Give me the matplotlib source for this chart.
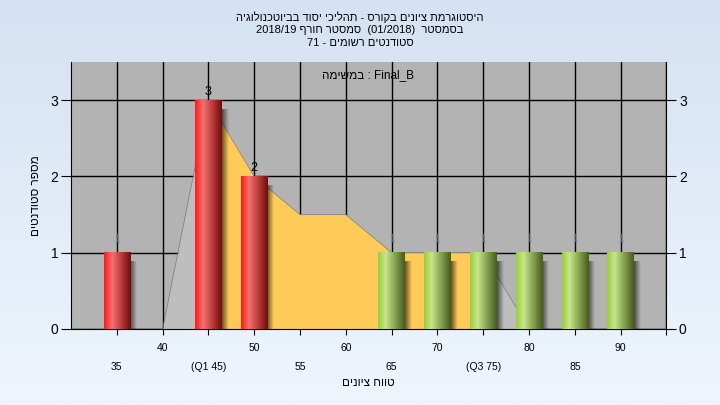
"""
Grade histogram for the course, with quartile band
"""
import re
import numpy as np
import matplotlib
import matplotlib.pyplot as plt
from matplotlib.colors import LinearSegmentedColormap

matplotlib.use('Agg')
plt.rcParams['font.family'] = ['Liberation Sans', 'DejaVu Sans']

TITLE = ['היסטוגרמת ציונים בקורס - תהליכי יסוד בביוטכנולוגיה',
         'בסמסטר  (01/2018)  סמסטר חורף 2018/19',
         'סטודנטים רשומים - 71']
TASK_WORD = 'במשימה'
TASK_NAME = 'Final_B'
X_LABEL = 'טווח ציונים'
Y_LABEL = 'מספר סטודנטים'

BINS = [35, 40, 45, 50, 55, 60, 65, 70, 75, 80, 85, 90]
COUNTS = [1, 0, 3, 2, 0, 0, 1, 1, 1, 1, 1, 1]
CURVE = [0, 0, 3, 2, 1.5, 1.5, 1, 1, 1, 0, 0, 0]
TICK_LABELS = ['35', '40', '(Q1 45)', '50', '55', '60',
               '65', '70', '(Q3 75)', '80', '85', '90']
Q1, Q3 = 45, 75
FAIL_BELOW = 55


def visual(s):
    # matplotlib has no bidi, so turn a RTL string into display order
    rev = s[::-1]
    rev = re.sub(r'[0-9A-Za-z][0-9A-Za-z/._]*[0-9A-Za-z]|[0-9A-Za-z]',
                 lambda m: m.group(0)[::-1], rev)
    return rev.translate(str.maketrans('()', ')('))


fig = plt.figure(figsize=(7.2, 4.05), dpi=100)

# light blue page background
bg = fig.add_axes([0, 0, 1, 1], zorder=-5)
grad = np.linspace(0, 1, 256).reshape(-1, 1)
bg.imshow(grad, aspect='auto', extent=[0, 1, 0, 1], origin='upper',
          cmap=LinearSegmentedColormap.from_list('bg', ['#D5E2F3', '#EEF5FD']))
bg.axis('off')

ax = fig.add_axes([0.0986, 0.1877, 0.827, 0.659])
ax.set_facecolor('#B3B3B3')
ax.set_axisbelow(True)
ax.grid(True, color='black', linewidth=1)

# smoothed curve: grey outside the quartiles, yellow inside
x = np.array(BINS, dtype=float)
c = np.array(CURVE, dtype=float)
ax.fill_between(x, 0, c, color='#BEBEBE', linewidth=0, zorder=2)
ax.fill_between(x, 0, c, where=(x >= Q1) & (x <= Q3), color='#FECB58',
                linewidth=0, zorder=2.1)
ax.plot(x, c, color='#7C7C7C', linewidth=0.5, zorder=2.2)

red = LinearSegmentedColormap.from_list(
    'red', [(0, '#FF1A1A'), (0.3, '#F27272'), (0.65, '#BB3A3A'), (1, '#6E0E0E')])
green = LinearSegmentedColormap.from_list(
    'green', [(0, '#9ACD3C'), (0.28, '#C6E68E'), (0.6, '#8CA956'), (1, '#475C1E')])
shadow = LinearSegmentedColormap.from_list(
    'sh', [(0, 0, 0, 0.6), (0, 0, 0, 0)])

bars = ax.bar(BINS, COUNTS, width=2.9, color='none', zorder=4)
hgrad = np.linspace(0, 1, 64).reshape(1, -1)
for b, n, v in zip(bars, BINS, COUNTS):
    if v == 0:
        continue
    x0, w, h = b.get_x(), b.get_width(), b.get_height()
    ax.imshow(hgrad, aspect='auto', cmap=shadow, zorder=3,
              extent=[x0 + w, x0 + w + 0.7, -0.02, h - 0.12])
    ax.imshow(hgrad, aspect='auto', cmap=red if n < FAIL_BELOW else green,
              zorder=4, extent=[x0, x0 + w, 0, h])
    if v == 1:
        ax.text(n, h + 0.12, str(v), ha='center', va='bottom',
                fontsize=7, color='#5C7C9C', zorder=5)
    else:
        ax.text(n, h + 0.03, str(v), ha='center', va='bottom',
                fontsize=9, color='black', zorder=5)

ax.set_xlim(30, 95)
ax.set_ylim(0, 3.5)

ax.set_xticks(BINS + [95])
ax.set_xticklabels([('' if i % 2 else '\n') + t for i, t in enumerate(TICK_LABELS)] + [''],
                   fontsize=7.5, linespacing=2.2)
ax.tick_params(axis='x', length=4, color='black', pad=6)
ax.set_yticks([0, 1, 2, 3])
ax.tick_params(axis='y', labelsize=10, length=7, pad=2, right=True, labelright=True)
ax.spines['top'].set_visible(False)

ax.text(0.498, 0.951, visual(TASK_WORD) + ' : ' + TASK_NAME, transform=ax.transAxes,
        ha='center', va='center', fontsize=8.5)
ax.set_xlabel(visual(X_LABEL), fontsize=8.5, labelpad=3)
ax.set_ylabel(visual(Y_LABEL), fontsize=8.5, labelpad=6)

fig.text(0.5, 0.972, '\n'.join(visual(t) for t in TITLE), ha='center', va='top',
         fontsize=8, linespacing=1.3)

fig.savefig('out.png', dpi=100)
